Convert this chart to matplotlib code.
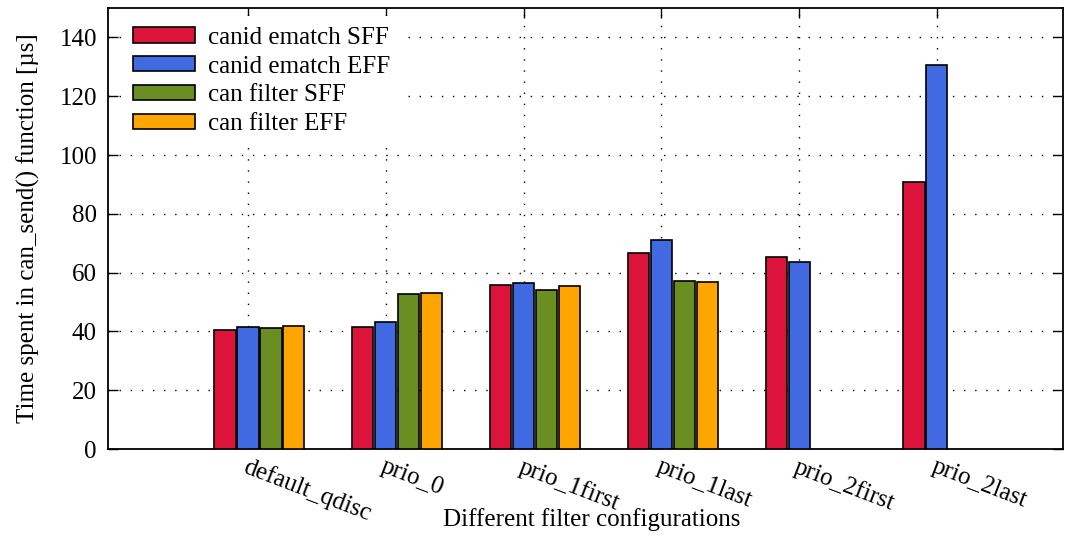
#!/usr/bin/env python3

#Time spent in can_send() per filter configuration, clustered bars

import numpy as np
import matplotlib
matplotlib.use("Agg")
import matplotlib.pyplot as plt

###########################
########## DATA ###########
###########################

configs = ["default_qdisc", "prio_0", "prio_1first", "prio_1last", "prio_2first", "prio_2last"]

series_names = ["canid ematch SFF", "canid ematch EFF", "can filter SFF", "can filter EFF"]

canid_sff = [40.6, 41.4, 55.7, 66.6, 65.2, 90.7]
canid_eff = [41.5, 43.1, 56.5, 71.1, 63.5, 130.7]
filter_sff = [41.1, 52.7, 54.2, 57.0, np.nan, np.nan]
filter_eff = [41.8, 53.0, 55.5, 56.9, np.nan, np.nan]

series_colors = ["#DC143C", "#4169E1", "#6B8E23", "#FFA500"]

###########################
########### PLOT ##########
###########################

plt.rcParams["font.family"] = ["Liberation Serif", "DejaVu Serif"]

fig = plt.figure(figsize=(10.65, 5.38), dpi=100)
ax = fig.add_axes([0.1014, 0.1654, 0.8966, 0.8196])

x = np.arange(len(configs))
slot = 1 / 6
offsets = [-1, 0, 1, 2]

for values, name, color, off in zip(
    [canid_sff, canid_eff, filter_sff, filter_eff], series_names, series_colors, offsets
):
    ax.bar(
        x + off * slot,
        values,
        width=slot * 0.92,
        color=color,
        edgecolor="black",
        linewidth=1.2,
        label=name,
        zorder=3,
    )

ax.set_xlim(-1.016, 5.914)
ax.set_ylim(0, 150)
ax.set_yticks(np.arange(0, 141, 20))
ax.set_xticks(x)
ax.set_xticklabels(configs, rotation=-21, ha="left", va="top", rotation_mode="anchor")

ax.tick_params(axis="both", direction="in", length=7, width=1.0, labelsize=18,
               top=True, right=True)
ax.tick_params(axis="x", pad=5)
ax.tick_params(axis="y", pad=8)

ax.grid(True, linestyle=(0, (1, 7)), color="black", linewidth=1.0, zorder=0)
ax.set_axisbelow(True)

for side in ax.spines.values():
    side.set_linewidth(1.3)

ax.set_ylabel("Time spent in can_send() function [µs]", fontsize=18, labelpad=14)
ax.set_xlabel("Different filter configurations", fontsize=18)
ax.xaxis.set_label_coords(0.507, -0.134)

leg = ax.legend(loc="upper left", bbox_to_anchor=(0.0063, 1.0),
                fontsize=18, frameon=True, fancybox=False,
                edgecolor="none", facecolor="white", framealpha=1.0,
                handlelength=2.5, handleheight=0.55, labelspacing=0.27,
                borderaxespad=0.3, borderpad=0.45, handletextpad=0.5)
leg.set_zorder(5)

plt.savefig("out.png", dpi=100)
plt.close()
